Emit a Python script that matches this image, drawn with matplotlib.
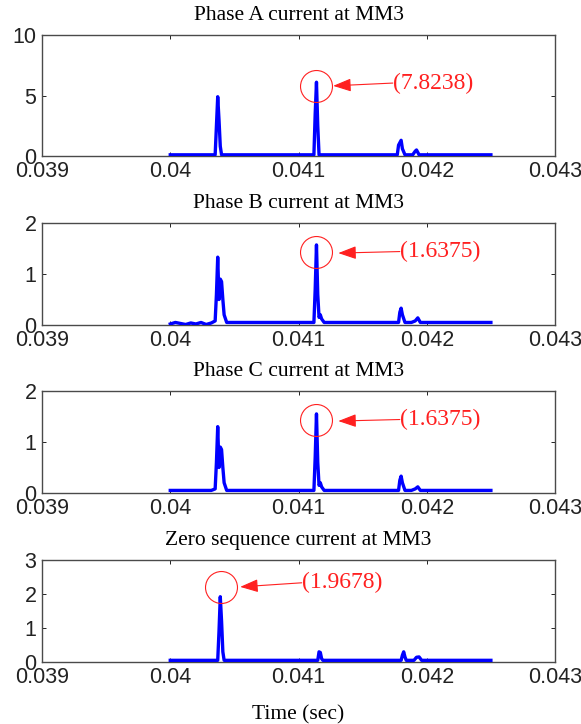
"""
Phase / zero-sequence current transients at MM3
four stacked panels, MATLAB look
"""
import matplotlib
matplotlib.use("Agg")
import matplotlib.pyplot as plt

# time axis (sec) and currents for each panel
t_a = [0.04000, 0.04035, 0.04036, 0.04037, 0.04038, 0.04039, 0.04040,
       0.04112, 0.04113, 0.04114, 0.04115, 0.04116,
       0.04177, 0.04178, 0.04180, 0.04181, 0.04183,
       0.04189, 0.04191, 0.04192, 0.04194, 0.04250]
i_a = [0.1, 0.1, 2.5, 4.9, 3.0, 0.8, 0.1,
       0.1, 3.5, 6.1, 2.5, 0.1,
       0.1, 0.9, 1.3, 0.6, 0.1,
       0.1, 0.4, 0.5, 0.1, 0.1]

t_b = [0.04000, 0.04004, 0.04008, 0.04012, 0.04016, 0.04020, 0.04024, 0.04028,
       0.04032, 0.04035, 0.04036, 0.04037, 0.04038, 0.04039, 0.04040, 0.04041,
       0.04042, 0.04044, 0.04046,
       0.04112, 0.04113, 0.04114, 0.04115, 0.04116, 0.04117, 0.04118, 0.04120,
       0.04178, 0.04179, 0.04180, 0.04181, 0.04183,
       0.04188, 0.04191, 0.04193, 0.04195, 0.04250]
i_b = [0.02, 0.05, 0.03, 0.01, 0.04, 0.02, 0.05, 0.01,
       0.04, 0.08, 0.6, 1.33, 0.5, 0.9, 0.85, 0.5,
       0.2, 0.05, 0.05,
       0.05, 0.7, 1.57, 0.6, 0.15, 0.2, 0.12, 0.05,
       0.05, 0.25, 0.33, 0.2, 0.05,
       0.05, 0.08, 0.14, 0.05, 0.05]

t_c = t_b
i_c = [0.05, 0.05, 0.05, 0.05, 0.05, 0.05, 0.05, 0.05,
       0.05, 0.08, 0.6, 1.3, 0.5, 0.9, 0.85, 0.5,
       0.2, 0.05, 0.05,
       0.05, 0.7, 1.55, 0.6, 0.15, 0.2, 0.12, 0.05,
       0.05, 0.25, 0.33, 0.2, 0.05,
       0.05, 0.08, 0.12, 0.05, 0.05]

t_0 = [0.04000, 0.04037, 0.04038, 0.04039, 0.04040, 0.04041, 0.04042,
       0.04115, 0.04116, 0.04117, 0.04118, 0.04119,
       0.04180, 0.04181, 0.04182, 0.04183, 0.04184,
       0.04190, 0.04192, 0.04194, 0.04196, 0.04250]
i_0 = [0.05, 0.05, 0.9, 1.92, 1.2, 0.3, 0.05,
       0.05, 0.3, 0.28, 0.1, 0.05,
       0.05, 0.2, 0.3, 0.15, 0.05,
       0.05, 0.14, 0.15, 0.05, 0.05]

titles = ["Phase A current at MM3", "Phase B current at MM3",
          "Phase C current at MM3", "Zero sequence current at MM3"]
series = [(t_a, i_a), (t_b, i_b), (t_c, i_c), (t_0, i_0)]
y_max = [10, 2, 2, 3]
y_ticks = [[0, 5, 10], [0, 1, 2], [0, 1, 2], [0, 1, 2, 3]]
x_ticks = [0.039, 0.040, 0.041, 0.042, 0.043]
x_tick_labels = ["0.039", "0.04", "0.041", "0.042", "0.043"]

# peak markers: circle centre, arrow tip, text anchor, label
peak_circle = [(0.04114, 5.8), (0.04114, 1.43), (0.04114, 1.43), (0.040393, 2.2)]
arrow_tip = [(0.04127, 5.8), (0.04131, 1.41), (0.04131, 1.41), (0.040545, 2.21)]
text_pos = [(0.041735, 6.03), (0.04179, 1.44), (0.04179, 1.44), (0.041025, 2.33)]
peak_labels = ["(7.8238)", "(1.6375)", "(1.6375)", "(1.9678)"]

# axes boxes in figure fraction [left, bottom, width, height]
boxes = [[0.0723, 0.7845, 0.883, 0.1671],
         [0.0723, 0.5511, 0.883, 0.1409],
         [0.0723, 0.3191, 0.883, 0.1409],
         [0.0723, 0.0856, 0.883, 0.1409]]

serif = "Liberation Serif"
sans = "Liberation Sans"
edge = "#4a4a4a"

fig = plt.figure(figsize=(5.81, 7.24), dpi=100)

for k in range(4):
    ax = fig.add_axes(boxes[k])
    t, cur = series[k]
    ax.plot(t, cur, color="#0000ff", lw=2.4, solid_joinstyle="round", zorder=3)

    ax.set_xlim(0.039, 0.043)
    ax.set_ylim(0, y_max[k])
    ax.set_xticks(x_ticks)
    ax.set_xticklabels(x_tick_labels, fontfamily=sans, fontsize=15.5, color="#222222")
    ax.set_yticks(y_ticks[k])
    ax.set_yticklabels([str(v) for v in y_ticks[k]], fontfamily=sans, fontsize=15.5,
                       color="#222222")
    ax.tick_params(direction="in", length=3, width=0.7, color="#222222",
                   top=True, right=True)
    ax.tick_params(axis="x", pad=3.5)
    ax.tick_params(axis="y", pad=4)
    for sp in ax.spines.values():
        sp.set_color(edge)
        sp.set_linewidth(1.0)
    ax.set_title(titles[k], fontfamily=serif, fontsize=15.5, pad=10.5)

    # red circle round the peak plus arrow and value
    cx, cy = peak_circle[k]
    ax.plot([cx], [cy], marker="o", ms=23, mfc="none", mec="#ff2020", mew=0.8,
            zorder=4, clip_on=False)
    ax.annotate("", xy=arrow_tip[k], xytext=text_pos[k],
                arrowprops=dict(arrowstyle="-|>,head_length=1.1,head_width=0.4",
                                color="#ff2020", lw=0.8, shrinkA=0, shrinkB=0))
    ax.text(text_pos[k][0], text_pos[k][1], peak_labels[k], color="#ff2020",
            fontfamily=serif, fontsize=17, va="center", ha="left")

    if k == 3:
        ax.set_xlabel("Time (sec)", fontfamily=serif, fontsize=15.5, labelpad=12.5)

fig.savefig("out.png", dpi=100)
